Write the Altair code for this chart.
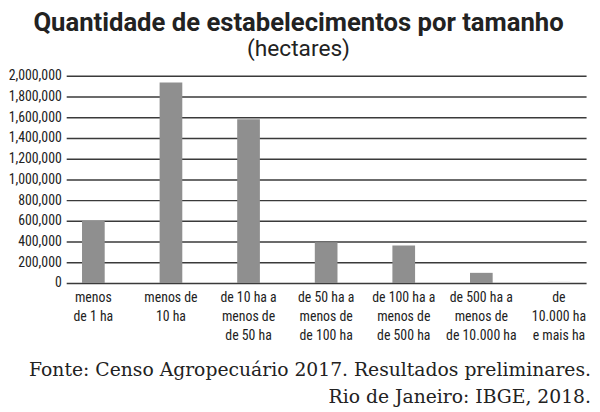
import altair as alt
import pandas as pd

categories = [
    "menos|de 1 ha",
    "menos de|10 ha",
    "de 10 ha a|menos de|de 50 ha",
    "de 50 ha a|menos de|de 100 ha",
    "de 100 ha a|menos de|de 500 ha",
    "de 500 ha a|menos de|de 10.000 ha",
    "de|10.000 ha|e mais ha",
]
values = [600000, 1935000, 1580000, 393000, 362000, 98000, 12000]
bar_colors = ["#8f8f8f", "#8f8f8f", "#8f8f8f", "#8f8f8f", "#8f8f8f", "#8f8f8f", "#d4d4d4"]
y_ticks = [0, 200000, 400000, 600000, 800000, 1000000, 1200000, 1400000, 1600000, 1800000, 2000000]
source_lines = [
    "Fonte: Censo Agropecuário 2017. Resultados preliminares.",
    "Rio de Janeiro: IBGE, 2018.",
]

COND = "Roboto Condensed, DejaVu Sans Condensed, Liberation Sans Narrow, Roboto"
SANS = "Roboto"
SERIF = "DejaVu Serif, Liberation Serif"

df = pd.DataFrame({"cat": categories, "val": values, "color": bar_colors})
src = pd.DataFrame({"line": source_lines, "row": [0, 1]})

W, H = 527, 210

bars = alt.Chart(df).mark_bar(size=23).encode(
    x=alt.X("cat:N", sort=categories, title=None,
            scale=alt.Scale(paddingInner=0.7, paddingOuter=0.2),
            axis=alt.Axis(labelExpr="split(datum.label, '|')", labelAngle=0,
                          labelFont=COND, labelFontSize=14, labelColor="#222",
                          labelLineHeight=19, labelPadding=8, ticks=False,
                          domain=False, grid=False, labelBaseline="top")),
    y=alt.Y("val:Q", title=None,
            scale=alt.Scale(domain=[0, 2000000]),
            axis=alt.Axis(values=y_ticks, format=",d", labelFont=COND,
                          labelFontSize=14, labelColor="#222", ticks=False,
                          domain=False, labelPadding=5, gridColor="#3a3a3a",
                          gridWidth=1.5, gridOpacity=1)),
    color=alt.Color("color:N", scale=None),
)

source = alt.Chart(src).mark_text(
    align="right", baseline="middle", font=SERIF, fontSize=19, color="#222", dx=5
).encode(
    text="line:N",
    x=alt.value(W),
    y=alt.Y("row:Q", scale=alt.Scale(domain=[0, 1], range=[298, 326]), axis=None),
)

chart = alt.layer(bars, source).resolve_scale(y="independent").properties(
    width=W, height=H,
    title=alt.TitleParams(
        text="Quantidade de estabelecimentos por tamanho",
        subtitle="(hectares)",
        font=SANS, fontSize=26, fontWeight="bold", color="#222",
        subtitleFont=SANS, subtitleFontSize=23, subtitleColor="#222",
        anchor="middle", dx=-28, offset=8, subtitlePadding=2,
    ),
    autosize=alt.AutoSizeParams(type="none"),
    padding={"left": 59, "top": 66, "right": 6, "bottom": 128},
).configure_view(stroke=None)

chart.save("out.html", embed_options={"renderer": "svg", "actions": False})
